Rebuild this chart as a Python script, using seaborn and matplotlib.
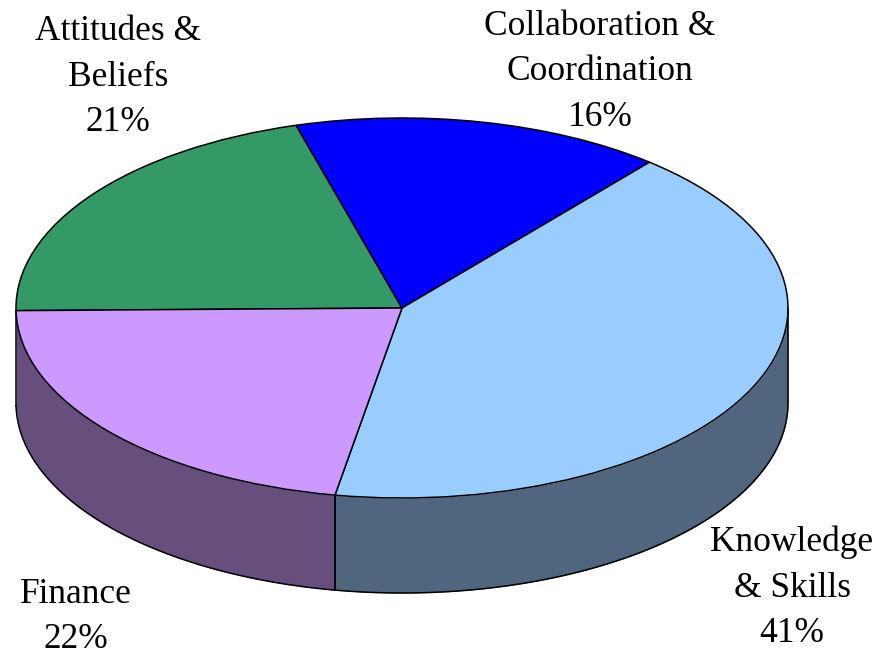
import numpy as np
import matplotlib
matplotlib.use('Agg')
import matplotlib.pyplot as plt
import seaborn as sns

# shares in drawing order, clockwise from the left edge of the pie
categories = ['Attitudes &\nBeliefs', 'Collaboration &\nCoordination', 'Knowledge\n& Skills', 'Finance']
pct_labels = ['21%', '16%', '41%', '22%']
# slice sizes (the printed labels are rounded)
values = [20.8, 15.5, 41.7, 22.0]
top_colors = ['#339966', '#0000FF', '#99CCFF', '#CC99FF']
side_colors = ['#1F5C3D', '#000099', '#50667F', '#664F7C']

sns.set_theme(style='white')
plt.rcParams['font.family'] = ['Liberation Serif', 'DejaVu Serif']

W, H = 894, 657
depth = 0.5  # wall height, in units of the pie's vertical radius
first_angle = 180.8
line_w = 1.1

fig = plt.figure(figsize=(W / 100, H / 100), dpi=100)
# axes span of the pie plus its wall, pixels
left, right, top, bottom = 16, 788, 118, 593
ax = fig.add_axes([left / W, 1 - bottom / H, (right - left) / W, (bottom - top) / H])

# side wall first, so the top face covers it
edges = first_angle - np.cumsum([0] + values) * 3.6
for start, stop, col in zip(edges[:-1], edges[1:], side_colors):
    lo, hi = max(min(start, stop), -180), min(max(start, stop), 0)
    if lo >= hi:
        continue
    t = np.radians(np.linspace(lo, hi, 200))
    ax.fill_between(np.cos(t), np.sin(t), np.sin(t) - depth, color=col, lw=0)
    ax.plot(np.cos(t), np.sin(t) - depth, color='black', lw=line_w, clip_on=False,
            solid_capstyle='round')
    for a in (lo, hi):
        r = np.radians(a)
        ax.plot([np.cos(r)] * 2, [np.sin(r), np.sin(r) - depth], color='black', lw=line_w,
                clip_on=False, solid_capstyle='round')

wedges, _ = ax.pie(values, colors=top_colors, startangle=first_angle, counterclock=False,
                   radius=1, wedgeprops=dict(edgecolor='black', linewidth=line_w))
for w in wedges:
    w.set_clip_on(False)
ax.set_aspect('auto')
ax.set_xlim(-1, 1)
ax.set_ylim(-1 - depth, 1)
ax.axis('off')

# labels, centred on pixel positions from the reference
def px_label(x, y, text, spacing=1.5):
    fig.text(x / W, 1 - y / H, text, ha='center', va='center', fontsize=25.5,
             color='black', linespacing=spacing)

px_label(118, 77, categories[0] + '\n' + pct_labels[0])
px_label(600, 72, categories[1] + '\n' + pct_labels[1])
px_label(792, 588, categories[2] + '\n' + pct_labels[2])
px_label(76, 617, categories[3] + '\n' + pct_labels[3], spacing=1.45)

fig.savefig('out.png', dpi=100, facecolor='white')
